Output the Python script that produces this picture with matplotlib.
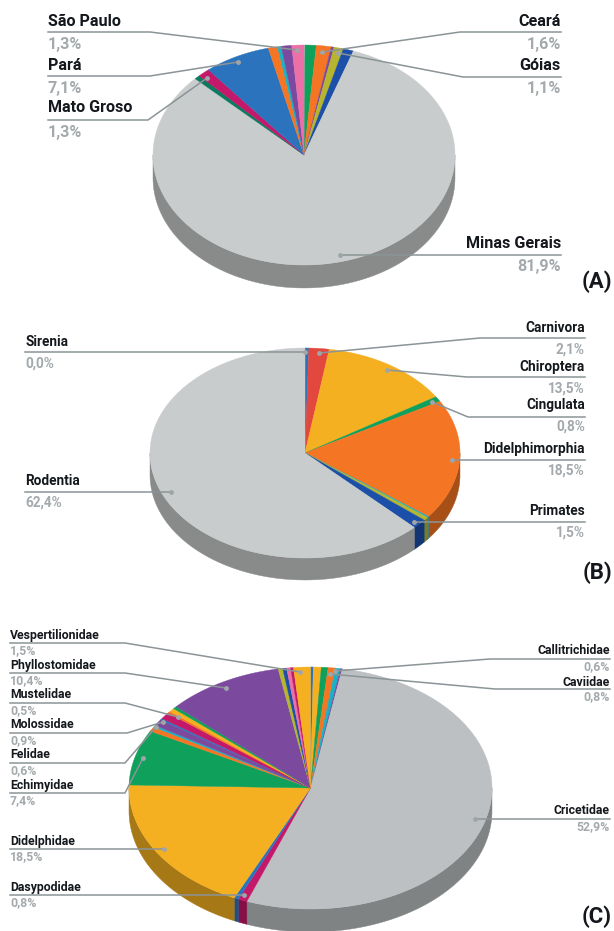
import matplotlib
matplotlib.use('Agg')
import matplotlib.pyplot as plt
import matplotlib.colors as mcolors
import numpy as np

plt.rcParams['font.family'] = ['Roboto', 'DejaVu Sans']

# slices clockwise from 12 o'clock, in percent
estados_vals = [0.1, 1.2, 1.6, 0.3, 1.0, 1.1, 81.9, 0.6, 1.3, 7.1, 1.0, 0.4, 1.1, 1.3]
estados_cols = ['#c9cccc', '#0fa05c', '#f47523', '#7b4a9e', '#b5b52e', '#1c4fa8', '#c9cccd',
                '#0b7a5e', '#c4186a', '#2b74bd', '#f47523', '#19b1c4', '#7b4a9e', '#ec6fa8']

ordens_vals = [0.4, 2.1, 13.5, 0.8, 18.5, 0.2, 0.5, 1.5, 62.4]
ordens_cols = ['#2b74bd', '#e2483d', '#f5b021', '#0fa05c', '#f47523', '#19b1c4', '#b5b52e',
               '#1c4fa8', '#c9cccd']

familias_vals = [0.25, 0.7, 0.6, 0.65, 0.45, 0.15, 52.9, 0.8, 0.4, 18.5, 7.4, 0.6, 0.25, 0.9,
                 0.2, 0.9, 0.25, 0.5, 0.35, 10.4, 0.4, 0.35, 0.35, 0.25, 1.5]
familias_cols = ['#2b74bd', '#f5b021', '#0fa05c', '#f47523', '#19b1c4', '#7b4a9e', '#bcc0c2',
                 '#c4186a', '#2b74bd', '#f5b021', '#0fa05c', '#f47523', '#19b1c4', '#7b4a9e',
                 '#2b74bd', '#c4186a', '#f47523', '#f5b021', '#0fa05c', '#7b4a9e', '#b5b52e',
                 '#1c4fa8', '#ec6fa8', '#c4186a', '#f5b021']

estados_labels = ['São Paulo', 'Pará', 'Mato Groso', 'Ceará', 'Góias', 'Minas Gerais']
estados_pct = ['1,3%', '7,1%', '1,3%', '1,6%', '1,1%', '81,9%']
ordens_labels = ['Sirenia', 'Rodentia', 'Carnivora', 'Chiroptera', 'Cingulata', 'Didelphimorphia', 'Primates']
ordens_pct = ['0,0%', '62,4%', '2,1%', '13,5%', '0,8%', '18,5%', '1,5%']
familias_labels = ['Vespertilionidae', 'Phyllostomidae', 'Mustelidae', 'Molossidae', 'Felidae', 'Echimyidae',
                   'Didelphidae', 'Dasypodidae', 'Callitrichidae', 'Caviidae', 'Cricetidae']
familias_pct = ['1,5%', '10,4%', '0,5%', '0,9%', '0,6%', '7,4%', '18,5%', '0,8%', '0,6%', '0,8%', '52,9%']

LINE = '#8b9496'
PCT = '#a3a9ac'


def rim(th, cx, cy, rx, ry):
    return cx + rx * np.sin(th), cy - ry * np.cos(th)


def pie3d(ax, vals, cols, cx, cy, rx, ry, depth):
    edges = np.deg2rad(np.cumsum([0] + vals) / sum(vals) * 360)
    # side wall first, only the front half can be seen
    for a, b, c in zip(edges[:-1], edges[1:], cols):
        lo, hi = max(a, np.pi / 2), min(b, 3 * np.pi / 2)
        if hi <= lo:
            continue
        th = np.linspace(lo, hi, 80)
        x, y = rim(th, cx, cy, rx, ry)
        dark = np.array(mcolors.to_rgb(c)) * 0.68
        ax.fill(np.r_[x, x[::-1]], np.r_[y, y[::-1] + depth], color=dark, lw=0.3)
    for a, b, c in zip(edges[:-1], edges[1:], cols):
        th = np.linspace(a, b, max(int((b - a) * 60), 4))
        x, y = rim(th, cx, cy, rx, ry)
        ax.fill(np.r_[cx, x], np.r_[cy, y], color=c, lw=0.3)


def leader(ax, pts, dot=True):
    xs, ys = zip(*pts)
    ax.plot(xs, ys, color=LINE, lw=1.1, solid_joinstyle='round', zorder=5)
    if dot:
        ax.plot(xs[-1], ys[-1], 'o', color='#a0a6a8', ms=2.5, zorder=6)


def label(ax, x, y_name, y_pct, name, pct, size, ha='left'):
    ax.text(x, y_name, name, fontsize=size, fontweight='bold', color='#14181c', ha=ha, va='center')
    ax.text(x, y_pct, pct, fontsize=size, fontweight='bold', color=PCT, ha=ha, va='center')


fig = plt.figure(figsize=(6.14, 9.31), dpi=100)
ax = fig.add_axes([0, 0, 1, 1])
ax.set_xlim(0, 614)
ax.set_ylim(931, 0)
ax.axis('off')

# (A)
pie3d(ax, estados_vals, estados_cols, 304, 155, 151, 110, 23)
a_pos = [(48, 21, 44), (48, 65, 88), (48, 108, 132), (561, 21, 44), (561, 65, 88), (561, 243, 266)]
a_lines = [[(48, 32), (150, 32), (297, 50)],
           [(48, 76), (150, 76), (238, 62)],
           [(48, 120), (148, 120), (207, 78)],
           [(561, 32), (460, 32), (322, 52)],
           [(561, 77), (463, 77), (338, 53)],
           [(561, 255), (340, 255)]]
for i, (x, yn, yp) in enumerate(a_pos):
    label(ax, x, yn, yp, estados_labels[i], estados_pct[i], 11.6, 'left' if x < 300 else 'right')
    leader(ax, a_lines[i])

# (B)
pie3d(ax, ordens_vals, ordens_cols, 305, 453, 155, 105, 22)
b_pos = [(25, 342, 364), (25, 481, 503), (585, 328, 350), (585, 367, 389), (585, 405, 427),
         (585, 449, 471), (585, 511, 533)]
b_lines = [[(25, 352), (305, 352)],
           [(25, 492), (171, 492)],
           [(585, 338), (480, 338), (319, 353)],
           [(585, 377), (467, 377), (387, 370)],
           [(585, 417), (468, 417), (432, 402)],
           [(585, 460), (452, 460)],
           [(585, 522), (414, 522)]]
for i, (x, yn, yp) in enumerate(b_pos):
    label(ax, x, yn, yp, ordens_labels[i], ordens_pct[i], 9.8, 'left' if x < 300 else 'right')
    leader(ax, b_lines[i])

# (C)
pie3d(ax, familias_vals, familias_cols, 310.5, 788, 181.5, 121, 23)
c_pos = [(10, 635, 651), (10, 665, 681), (10, 695, 711), (10, 725, 741), (10, 755, 771), (10, 785, 801),
         (10, 841, 857), (10, 887, 903), (610, 651, 667), (610, 682, 697), (610, 811, 827)]
c_lines = [[(10, 643), (125, 643), (300, 672)],
           [(10, 673), (125, 673), (226, 688)],
           [(10, 703), (125, 703), (178, 717)],
           [(10, 733), (127, 733), (163, 722)],
           [(10, 763), (125, 763), (156, 727)],
           [(10, 793), (125, 793), (143, 758)],
           [(10, 849), (164, 849)],
           [(10, 895), (244, 895)],
           [(610, 659), (490, 659), (335, 671)],
           [(610, 689), (495, 689), (330, 674)],
           [(610, 819), (475, 819)]]
for i, (x, yn, yp) in enumerate(c_pos):
    label(ax, x, yn, yp, familias_labels[i], familias_pct[i], 8.8, 'left' if x < 300 else 'right')
    leader(ax, c_lines[i])

for tag, y in [('(A)', 282), ('(B)', 573), ('(C)', 917)]:
    ax.text(612, y, tag, fontsize=16, fontweight='bold', color='#14181c', ha='right', va='center')

fig.savefig('out.png', dpi=100)
